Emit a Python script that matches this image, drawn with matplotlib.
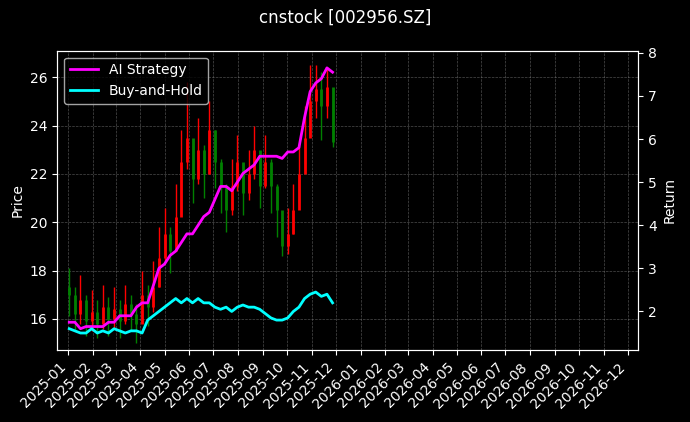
import numpy as np
import pandas as pd
import matplotlib
matplotlib.use("Agg")
import matplotlib.pyplot as plt
import matplotlib.dates as mdates

plt.style.use("dark_background")

# weekly bars, Jan 2025 - early Dec 2025
dates = pd.date_range("2025-01-02", periods=48, freq="7D")
close = [17.0, 16.2, 16.8, 15.9, 16.3, 15.8, 16.5, 16.0, 16.4, 15.9, 16.6, 16.2,
         15.8, 17.0, 16.5, 17.3, 18.5, 19.5, 18.8, 20.2, 22.5, 23.5, 21.8, 23.0,
         22.0, 23.8, 22.5, 21.5, 20.5, 21.5, 22.5, 21.2, 22.0, 23.0, 21.5, 22.5,
         21.5, 20.5, 19.0, 19.5, 20.5, 22.0, 23.5, 25.0, 25.5, 24.8, 25.6, 23.3]
high = [18.1, 17.3, 17.8, 17.0, 17.2, 16.8, 17.4, 16.9, 17.3, 16.8, 17.4, 17.0,
        16.6, 18.0, 17.4, 18.4, 19.8, 20.6, 19.8, 21.6, 23.8, 25.8, 23.2, 24.3,
        23.2, 25.0, 23.8, 22.6, 21.6, 22.6, 23.6, 22.4, 23.0, 24.0, 22.8, 23.6,
        22.6, 21.6, 20.2, 20.6, 21.6, 23.2, 24.8, 26.5, 26.5, 26.2, 26.4, 24.9]
low = [16.1, 15.5, 15.8, 15.3, 15.5, 15.2, 15.6, 15.3, 15.6, 15.2, 15.8, 15.5,
       15.0, 15.9, 15.7, 16.3, 17.3, 18.4, 17.9, 19.0, 20.3, 22.2, 20.8, 21.6,
       21.0, 22.0, 21.4, 20.4, 19.6, 20.3, 21.3, 20.3, 20.9, 21.8, 20.6, 21.4,
       20.4, 19.4, 18.6, 18.7, 19.5, 20.8, 22.4, 23.6, 24.3, 23.4, 24.3, 23.1]
ai_return = [1.75, 1.75, 1.6, 1.65, 1.65, 1.65, 1.65, 1.75, 1.75, 1.9, 1.9, 1.9,
             2.1, 2.2, 2.2, 2.6, 3.0, 3.1, 3.3, 3.4, 3.6, 3.8, 3.8, 4.0,
             4.2, 4.3, 4.6, 4.9, 4.9, 4.8, 5.0, 5.2, 5.3, 5.4, 5.6, 5.6,
             5.6, 5.6, 5.55, 5.7, 5.7, 5.8, 6.5, 7.1, 7.3, 7.4, 7.65, 7.55]
bh_return = [1.6, 1.55, 1.5, 1.5, 1.6, 1.5, 1.55, 1.5, 1.6, 1.55, 1.5, 1.55,
             1.55, 1.5, 1.8, 1.9, 2.0, 2.1, 2.2, 2.3, 2.2, 2.3, 2.2, 2.3,
             2.2, 2.2, 2.1, 2.05, 2.1, 2.0, 2.1, 2.15, 2.1, 2.1, 2.05, 1.95,
             1.85, 1.8, 1.8, 1.85, 2.0, 2.1, 2.3, 2.4, 2.45, 2.35, 2.4, 2.2]

opn = [close[0] + 0.3] + close[:-1]
colors = ["red" if c >= o else "green" for o, c in zip(opn, close)]

fig, ax = plt.subplots(figsize=(6.9, 4.22), dpi=100)
fig.subplots_adjust(left=0.083, right=0.925, top=0.88, bottom=0.17)
ax.vlines(dates, low, high, colors=colors, linewidth=1)
ax.vlines(dates, np.minimum(opn, close), np.maximum(opn, close), colors=colors, linewidth=2)
ax.set_ylabel("Price")
ax.set_ylim(14.7, 27.1)
ax.grid(True, linestyle="--", linewidth=0.5, color="gray", alpha=0.6)

ax2 = ax.twinx()
ax2.plot(dates, ai_return, color="magenta", linewidth=2, label="AI Strategy")
ax2.plot(dates, bh_return, color="cyan", linewidth=2, label="Buy-and-Hold")
ax2.set_ylabel("Return")
ax2.set_ylim(1.1, 8.05)
ax2.legend(loc="upper left")

ax.set_xlim(pd.Timestamp("2024-12-18"), pd.Timestamp("2026-12-14"))
ax.xaxis.set_major_locator(mdates.MonthLocator())
ax.xaxis.set_major_formatter(mdates.DateFormatter("%Y-%m"))
plt.setp(ax.get_xticklabels(), rotation=45, ha="right")

fig.suptitle("cnstock [002956.SZ]")
fig.savefig("out.png")
